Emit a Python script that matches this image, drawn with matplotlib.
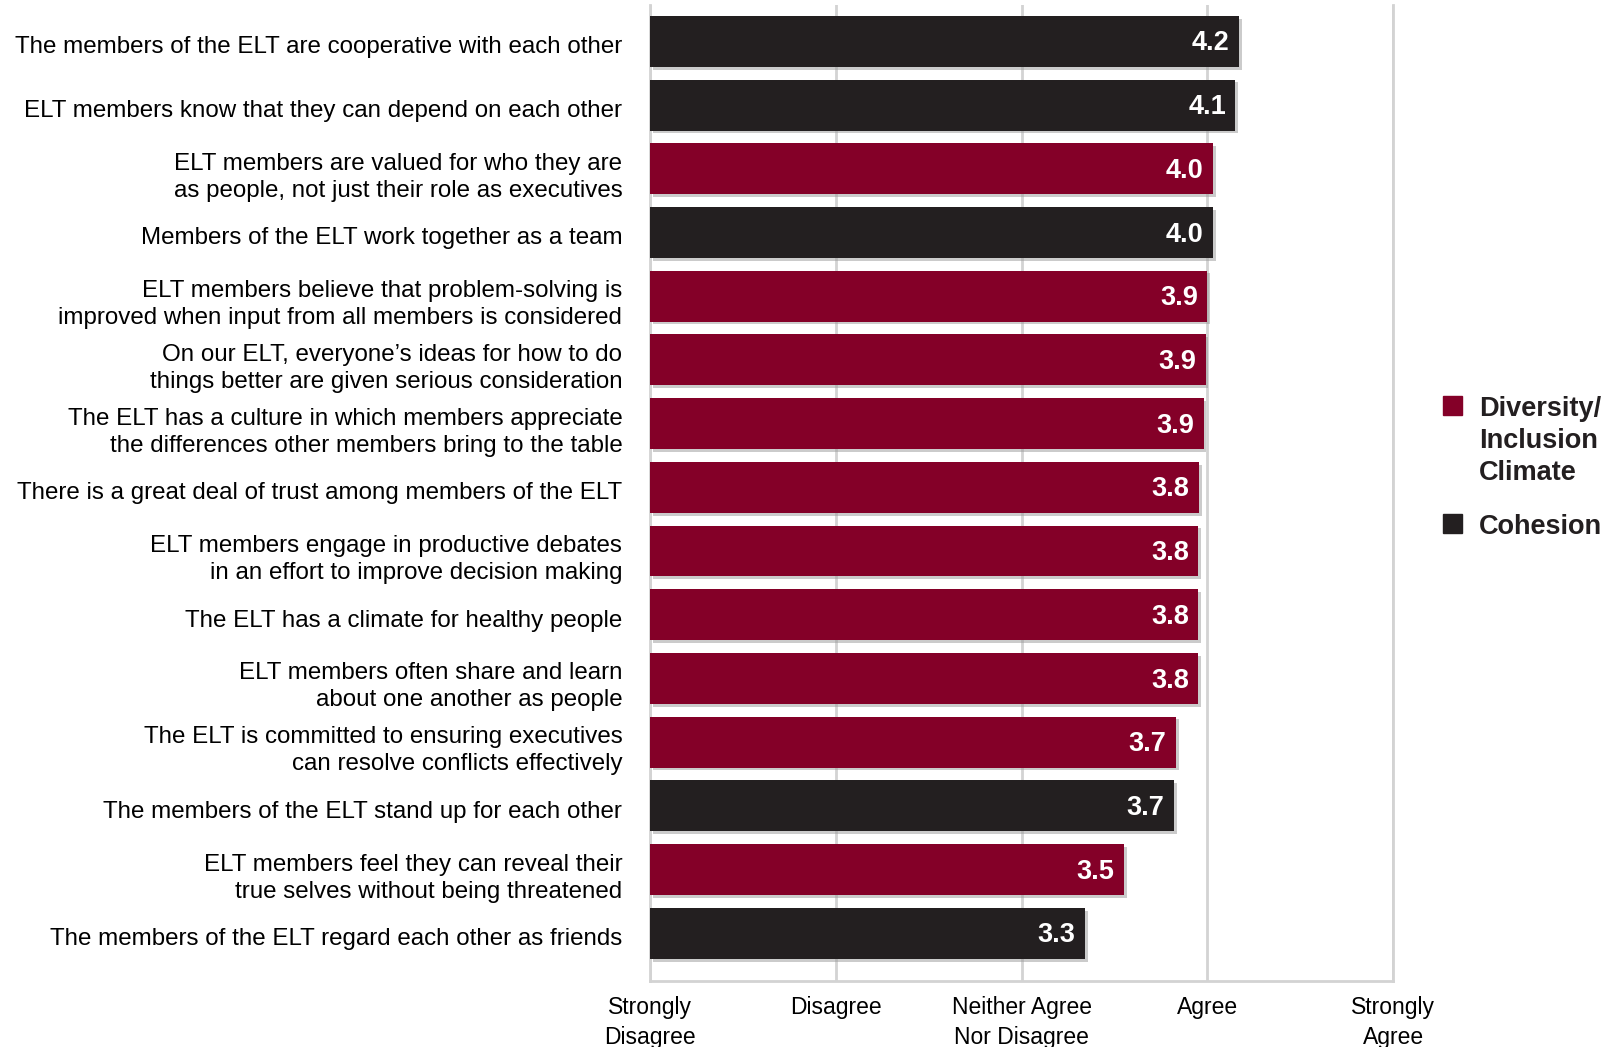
import matplotlib
matplotlib.use('Agg')
import matplotlib.pyplot as plt
import matplotlib.patheffects as pe
import matplotlib.transforms as mtrans
from matplotlib.patches import Rectangle

plt.rcParams['font.family'] = ['Liberation Sans', 'DejaVu Sans']

# statements, top to bottom
statements = [
    'The members of the ELT are cooperative with each other',
    'ELT members know that they can depend on each other',
    'ELT members are valued for who they are\nas people, not just their role as executives',
    'Members of the ELT work together as a team',
    'ELT members believe that problem-solving is\nimproved when input from all members is considered',
    'On our ELT, everyone\u2019s ideas for how to do\nthings better are given serious consideration',
    'The ELT has a culture in which members appreciate\nthe differences other members bring to the table',
    'There is a great deal of trust among members of the ELT',
    'ELT members engage in productive debates\nin an effort to improve decision making',
    'The ELT has a climate for healthy people',
    'ELT members often share and learn\nabout one another as people',
    'The ELT is committed to ensuring executives\ncan resolve conflicts effectively',
    'The members of the ELT stand up for each other',
    'ELT members feel they can reveal their\ntrue selves without being threatened',
    'The members of the ELT regard each other as friends',
]
# bar lengths as drawn, and the printed labels
scores = [4.17, 4.15, 4.03, 4.03, 4.00, 3.99, 3.98, 3.955, 3.95, 3.95, 3.95, 3.83, 3.82, 3.55, 3.34]
score_labels = ['4.2', '4.1', '4.0', '4.0', '3.9', '3.9', '3.9', '3.8', '3.8', '3.8', '3.8', '3.7', '3.7', '3.5', '3.3']
groups = ['C', 'C', 'D', 'C', 'D', 'D', 'D', 'D', 'D', 'D', 'D', 'D', 'C', 'D', 'C']

scale_ticks = [1, 2, 3, 4, 5]
scale_labels = ['Strongly\nDisagree', 'Disagree', 'Neither Agree\nNor Disagree', 'Agree', 'Strongly\nAgree']

crimson = '#840028'
dark = '#231f20'
grid_col = '#d3d3d3'
colors = {'D': crimson, 'C': dark}

fig = plt.figure(figsize=(16.19, 10.47), dpi=100)
ax = fig.add_axes([0.4015, 0.063, 0.459, 0.9322])

ypos = list(range(len(statements)))
bars = ax.barh(ypos, [s - 1 for s in scores], left=1, height=0.8,
               color=[colors[g] for g in groups], zorder=3)
for b in bars:
    b.set_path_effects([pe.SimplePatchShadow(offset=(2, -2), shadow_rgbFace='#999999', alpha=0.5),
                        pe.Normal()])

down2 = ax.transData + mtrans.ScaledTranslation(0, -1.5 / 72, fig.dpi_scale_trans)
for y, s, lab in zip(ypos, scores, score_labels):
    ax.text(s - 0.05, y, lab, ha='right', va='center', color='white',
            fontsize=19.5, fontweight='bold', zorder=4, transform=down2)

ax.set_xlim(1, 5)
ax.set_ylim(14.75, -0.57)
ax.set_yticks(ypos)
ax.set_yticklabels(statements, fontsize=17.4, linespacing=1.3)
ax.set_xticks(scale_ticks)
ax.set_xticklabels(scale_labels, fontsize=16.5, linespacing=1.35, va='top')
ax.tick_params(axis='both', length=0)
ax.tick_params(axis='y', pad=20)
ax.tick_params(axis='x', pad=11)
# nudge the statements down a little, like the original
shift = mtrans.ScaledTranslation(0, -2.5 / 72, fig.dpi_scale_trans)
for t in ax.get_yticklabels():
    t.set_transform(t.get_transform() + shift)

ax.grid(True, axis='x', color=grid_col, linewidth=2, zorder=0)
ax.spines['top'].set_visible(False)
for side in ['left', 'right', 'bottom']:
    ax.spines[side].set_color(grid_col)
    ax.spines[side].set_linewidth(2)

# legend drawn by hand
W, H = 1619, 1047
leg = [(crimson, 'Diversity/\nInclusion\nClimate', 396), (dark, 'Cohesion', 514)]
for col, txt, top in leg:
    fig.patches.append(Rectangle((1443 / W, 1 - (top + 19) / H), 19 / W, 19 / H,
                                 transform=fig.transFigure, color=col))
    fig.text(1479 / W, 1 - top / H, txt, ha='left', va='top', fontsize=19.5,
             fontweight='bold', color=dark, linespacing=1.3)

fig.savefig('out.png', dpi=100)
